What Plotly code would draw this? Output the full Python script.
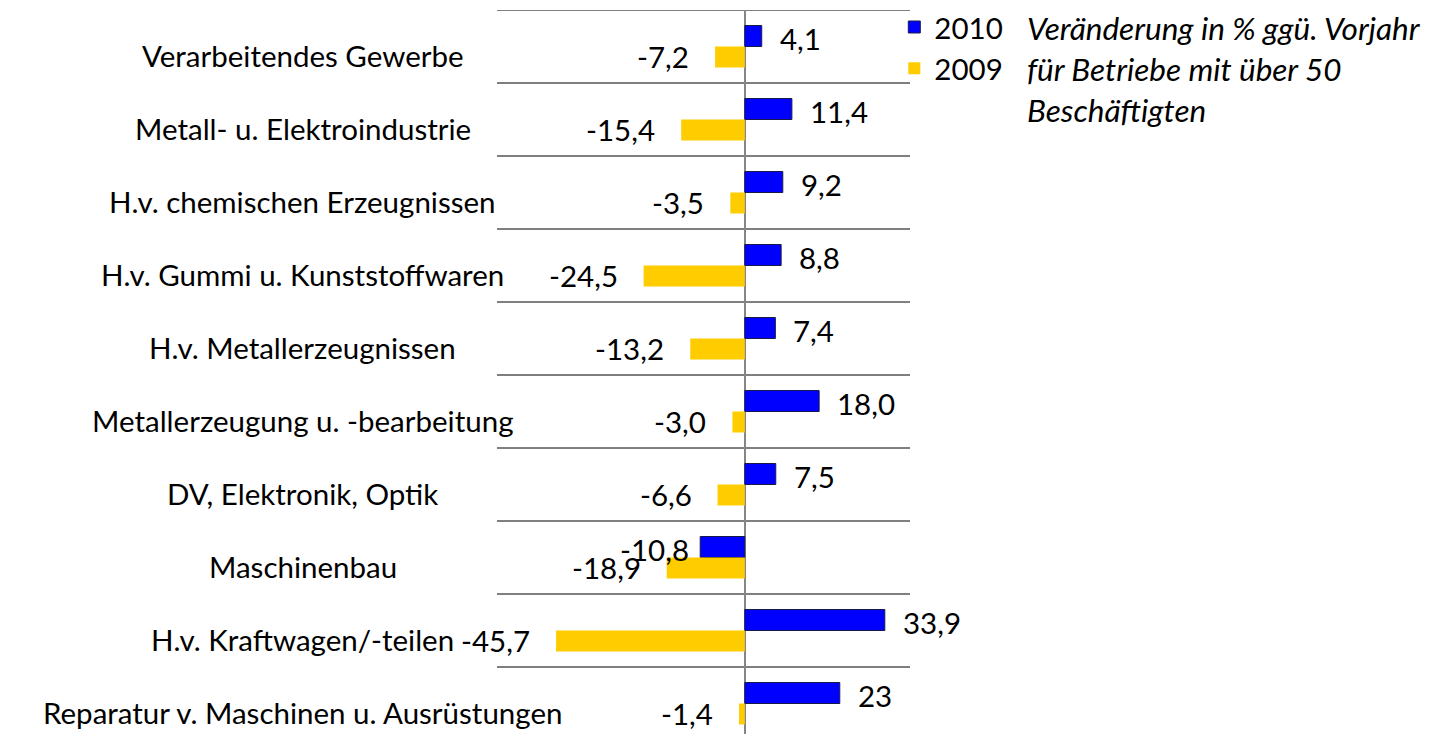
import plotly.graph_objects as go

categories = [
    "Verarbeitendes Gewerbe",
    "Metall- u. Elektroindustrie",
    "H.v. chemischen Erzeugnissen",
    "H.v. Gummi u. Kunststoffwaren",
    "H.v. Metallerzeugnissen",
    "Metallerzeugung u. -bearbeitung",
    "DV, Elektronik, Optik",
    "Maschinenbau",
    "H.v. Kraftwagen/-teilen",
    "Reparatur v. Maschinen u. Ausrüstungen",
]
values_2010 = [4.1, 11.4, 9.2, 8.8, 7.4, 18.0, 7.5, -10.8, 33.9, 23]
labels_2010 = ["4,1", "11,4", "9,2", "8,8", "7,4", "18,0", "7,5", "-10,8", "33,9", "23"]
values_2009 = [-7.2, -15.4, -3.5, -24.5, -13.2, -3.0, -6.6, -18.9, -45.7, -1.4]
labels_2009 = ["-7,2", "-15,4", "-3,5", "-24,5", "-13,2", "-3,0", "-6,6", "-18,9", "-45,7", "-1,4"]
series_names = ["2010", "2009"]
note_text = "Veränderung in % ggü. Vorjahr<br>für Betriebe mit über 50<br>Beschäftigten"

FONT = "Lato"
FS = 29.5
n = len(categories)
idx = list(range(n))

fig = go.Figure()
fig.add_trace(go.Bar(
    y=idx, x=values_2010, orientation="h", name=series_names[0],
    marker=dict(color="#0000FF", line=dict(color="#1a1a4a", width=1)),
))
fig.add_trace(go.Bar(
    y=idx, x=values_2009, orientation="h", name=series_names[1],
    marker=dict(color="#FFCC00", line=dict(width=0)),
))

bargap = 0.425
half = (1 - bargap) / 4  # center offset of each bar within the group

annotations = []
# category labels
for i, c in enumerate(categories):
    annotations.append(dict(
        x=-0.47, xref="paper", y=i, yref="y", text=c, showarrow=False,
        xanchor="center", yanchor="middle", yshift=-9,
        font=dict(family=FONT, size=FS, color="black"),
    ))
# value labels (series: values, labels, vertical offset, y-shift, negative gap)
for vals, labs, off, ys, neg_gap in ((values_2010, labels_2010, -half, 2, -9),
                                     (values_2009, labels_2009, half, 0, -24)):
    for i, (v, t) in enumerate(zip(vals, labs)):
        pos = v >= 0
        annotations.append(dict(
            x=v, xref="x", y=i + off, yref="y", text=t, showarrow=False,
            xanchor="left" if pos else "right", yanchor="middle",
            xshift=16 if pos else neg_gap, yshift=-ys,
            font=dict(family=FONT, size=FS, color="black"),
        ))
annotations.append(dict(
    x=(1018 - 489) / 413, xref="paper", y=1, yref="paper", yanchor="top", xanchor="left",
    yshift=2, borderpad=0, text="<i>" + note_text + "</i>", showarrow=False, align="left",
    font=dict(family=FONT, size=31.5, color="black"),
))

shapes = []
for i in range(n):
    shapes.append(dict(
        type="line", xref="x", yref="y", x0=-60, x1=40, y0=i - 0.5, y1=i - 0.5,
        line=dict(color="black", width=1), layer="below",
    ))

fig.update_layout(
    width=1434, height=726,
    margin=dict(l=489, r=532, t=2, b=0, autoexpand=False),
    paper_bgcolor="white", plot_bgcolor="white",
    barmode="group", bargap=bargap, bargroupgap=0,
    showlegend=True,
    legend=dict(x=0.962, y=1.012, xanchor="left", yanchor="top",
                font=dict(family=FONT, size=FS, color="black"),
                bgcolor="rgba(0,0,0,0)", traceorder="normal",
                itemwidth=30, tracegroupgap=0),
    font=dict(family=FONT, size=FS, color="black"),
    annotations=annotations, shapes=shapes,
    xaxis=dict(range=[-60, 40], showgrid=False, showticklabels=False, ticks="",
               zeroline=True, zerolinecolor="#868686", zerolinewidth=2, showline=False),
    yaxis=dict(range=[-0.5 + 724 / 73, -0.5], showgrid=False, showticklabels=False,
               ticks="", zeroline=False, showline=False),
)

fig.write_html("out.html")
